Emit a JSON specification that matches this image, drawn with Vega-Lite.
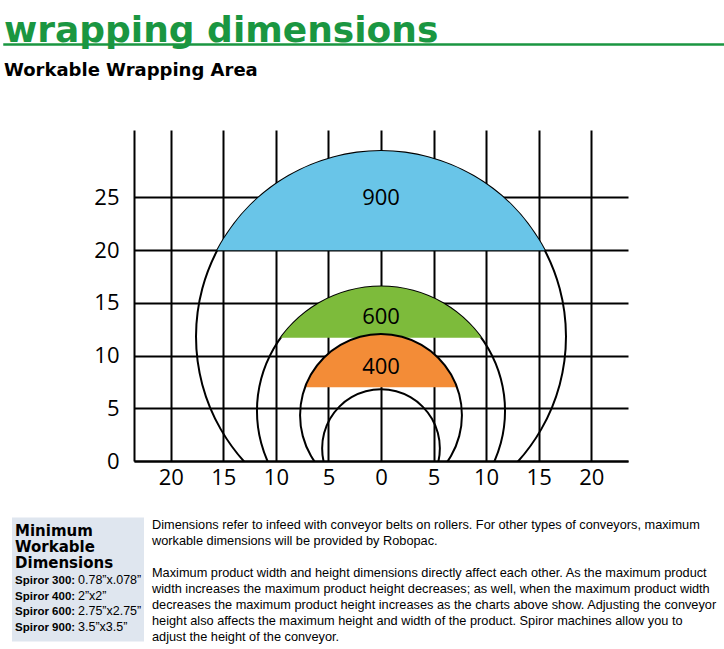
{
  "$schema": "https://vega.github.io/schema/vega-lite/v6.json",
  "background": "white",
  "padding": {"left": 3, "top": 12, "right": 0, "bottom": 0},
  "config": {"view": {"stroke": null}},
  "datasets": {
    "circles": [
      {"c":"900","i":0,"x":17.6,"y":11.8},{"c":"900","i":1,"x":17.0,"y":16.36},{"c":"900","i":2,"x":15.24,"y":20.6},{"c":"900","i":3,"x":12.45,"y":24.25},{"c":"900","i":4,"x":8.8,"y":27.04},{"c":"900","i":5,"x":4.56,"y":28.8},{"c":"900","i":6,"x":0,"y":29.4},{"c":"900","i":7,"x":-4.56,"y":28.8},{"c":"900","i":8,"x":-8.8,"y":27.04},{"c":"900","i":9,"x":-12.45,"y":24.25},{"c":"900","i":10,"x":-15.24,"y":20.6},{"c":"900","i":11,"x":-17.0,"y":16.36},{"c":"900","i":12,"x":-17.6,"y":11.8},{"c":"900","i":13,"x":-17.0,"y":7.24},{"c":"900","i":14,"x":-15.24,"y":3.0},{"c":"900","i":15,"x":-12.45,"y":-0.65},{"c":"900","i":16,"x":-8.8,"y":-3.44},{"c":"900","i":17,"x":-4.56,"y":-5.2},{"c":"900","i":18,"x":0,"y":-5.8},{"c":"900","i":19,"x":4.56,"y":-5.2},{"c":"900","i":20,"x":8.8,"y":-3.44},{"c":"900","i":21,"x":12.45,"y":-0.65},{"c":"900","i":22,"x":15.24,"y":3.0},{"c":"900","i":23,"x":17.0,"y":7.24},
      {"c":"600","i":0,"x":11.8,"y":4.75},{"c":"600","i":1,"x":11.4,"y":7.8},{"c":"600","i":2,"x":10.22,"y":10.65},{"c":"600","i":3,"x":8.34,"y":13.09},{"c":"600","i":4,"x":5.9,"y":14.97},{"c":"600","i":5,"x":3.05,"y":16.15},{"c":"600","i":6,"x":0,"y":16.55},{"c":"600","i":7,"x":-3.05,"y":16.15},{"c":"600","i":8,"x":-5.9,"y":14.97},{"c":"600","i":9,"x":-8.34,"y":13.09},{"c":"600","i":10,"x":-10.22,"y":10.65},{"c":"600","i":11,"x":-11.4,"y":7.8},{"c":"600","i":12,"x":-11.8,"y":4.75},{"c":"600","i":13,"x":-11.4,"y":1.7},{"c":"600","i":14,"x":-10.22,"y":-1.15},{"c":"600","i":15,"x":-8.34,"y":-3.59},{"c":"600","i":16,"x":-5.9,"y":-5.47},{"c":"600","i":17,"x":-3.05,"y":-6.65},{"c":"600","i":18,"x":0,"y":-7.05},{"c":"600","i":19,"x":3.05,"y":-6.65},{"c":"600","i":20,"x":5.9,"y":-5.47},{"c":"600","i":21,"x":8.34,"y":-3.59},{"c":"600","i":22,"x":10.22,"y":-1.15},{"c":"600","i":23,"x":11.4,"y":1.7},
      {"c":"400","i":0,"x":7.7,"y":4.35},{"c":"400","i":1,"x":7.44,"y":6.34},{"c":"400","i":2,"x":6.67,"y":8.2},{"c":"400","i":3,"x":5.44,"y":9.8},{"c":"400","i":4,"x":3.85,"y":11.02},{"c":"400","i":5,"x":1.99,"y":11.79},{"c":"400","i":6,"x":0,"y":12.05},{"c":"400","i":7,"x":-1.99,"y":11.79},{"c":"400","i":8,"x":-3.85,"y":11.02},{"c":"400","i":9,"x":-5.44,"y":9.8},{"c":"400","i":10,"x":-6.67,"y":8.2},{"c":"400","i":11,"x":-7.44,"y":6.34},{"c":"400","i":12,"x":-7.7,"y":4.35},{"c":"400","i":13,"x":-7.44,"y":2.36},{"c":"400","i":14,"x":-6.67,"y":0.5},{"c":"400","i":15,"x":-5.44,"y":-1.1},{"c":"400","i":16,"x":-3.85,"y":-2.32},{"c":"400","i":17,"x":-1.99,"y":-3.09},{"c":"400","i":18,"x":0,"y":-3.35},{"c":"400","i":19,"x":1.99,"y":-3.09},{"c":"400","i":20,"x":3.85,"y":-2.32},{"c":"400","i":21,"x":5.44,"y":-1.1},{"c":"400","i":22,"x":6.67,"y":0.5},{"c":"400","i":23,"x":7.44,"y":2.36},
      {"c":"300","i":0,"x":5.6,"y":1.2},{"c":"300","i":1,"x":5.41,"y":2.65},{"c":"300","i":2,"x":4.85,"y":4.0},{"c":"300","i":3,"x":3.96,"y":5.16},{"c":"300","i":4,"x":2.8,"y":6.05},{"c":"300","i":5,"x":1.45,"y":6.61},{"c":"300","i":6,"x":0,"y":6.8},{"c":"300","i":7,"x":-1.45,"y":6.61},{"c":"300","i":8,"x":-2.8,"y":6.05},{"c":"300","i":9,"x":-3.96,"y":5.16},{"c":"300","i":10,"x":-4.85,"y":4.0},{"c":"300","i":11,"x":-5.41,"y":2.65},{"c":"300","i":12,"x":-5.6,"y":1.2},{"c":"300","i":13,"x":-5.41,"y":-0.25},{"c":"300","i":14,"x":-4.85,"y":-1.6},{"c":"300","i":15,"x":-3.96,"y":-2.76},{"c":"300","i":16,"x":-2.8,"y":-3.65},{"c":"300","i":17,"x":-1.45,"y":-4.21},{"c":"300","i":18,"x":0,"y":-4.4},{"c":"300","i":19,"x":1.45,"y":-4.21},{"c":"300","i":20,"x":2.8,"y":-3.65},{"c":"300","i":21,"x":3.96,"y":-2.76},{"c":"300","i":22,"x":4.85,"y":-1.6},{"c":"300","i":23,"x":5.41,"y":-0.25}
    ],
    "segs": [
      {"s":"900","x":-15.58,"y":20,"y2":20},{"s":"900","x":-15.24,"y":20.6,"y2":20},{"s":"900","x":-13.96,"y":22.51,"y2":20},{"s":"900","x":-12.45,"y":24.25,"y2":20},{"s":"900","x":-10.71,"y":25.76,"y2":20},{"s":"900","x":-8.8,"y":27.04,"y2":20},{"s":"900","x":-6.74,"y":28.06,"y2":20},{"s":"900","x":-4.56,"y":28.8,"y2":20},{"s":"900","x":-2.3,"y":29.25,"y2":20},{"s":"900","x":0,"y":29.4,"y2":20},{"s":"900","x":2.3,"y":29.25,"y2":20},{"s":"900","x":4.56,"y":28.8,"y2":20},{"s":"900","x":6.74,"y":28.06,"y2":20},{"s":"900","x":8.8,"y":27.04,"y2":20},{"s":"900","x":10.71,"y":25.76,"y2":20},{"s":"900","x":12.45,"y":24.25,"y2":20},{"s":"900","x":13.96,"y":22.51,"y2":20},{"s":"900","x":15.24,"y":20.6,"y2":20},{"s":"900","x":15.58,"y":20,"y2":20},
      {"s":"600","x":-9.54,"y":11.7,"y2":11.7},{"s":"600","x":-9.04,"y":12.34,"y2":11.7},{"s":"600","x":-8.34,"y":13.09,"y2":11.7},{"s":"600","x":-7.18,"y":14.11,"y2":11.7},{"s":"600","x":-5.9,"y":14.97,"y2":11.7},{"s":"600","x":-4.52,"y":15.65,"y2":11.7},{"s":"600","x":-3.05,"y":16.15,"y2":11.7},{"s":"600","x":-1.54,"y":16.45,"y2":11.7},{"s":"600","x":0,"y":16.55,"y2":11.7},{"s":"600","x":1.54,"y":16.45,"y2":11.7},{"s":"600","x":3.05,"y":16.15,"y2":11.7},{"s":"600","x":4.52,"y":15.65,"y2":11.7},{"s":"600","x":5.9,"y":14.97,"y2":11.7},{"s":"600","x":7.18,"y":14.11,"y2":11.7},{"s":"600","x":8.34,"y":13.09,"y2":11.7},{"s":"600","x":9.04,"y":12.34,"y2":11.7},{"s":"600","x":9.54,"y":11.7,"y2":11.7},
      {"s":"400","x":-7.23,"y":7,"y2":7},{"s":"400","x":-7.11,"y":7.3,"y2":7},{"s":"400","x":-6.67,"y":8.2,"y2":7},{"s":"400","x":-6.11,"y":9.04,"y2":7},{"s":"400","x":-5.44,"y":9.8,"y2":7},{"s":"400","x":-4.69,"y":10.46,"y2":7},{"s":"400","x":-3.85,"y":11.02,"y2":7},{"s":"400","x":-2.95,"y":11.46,"y2":7},{"s":"400","x":-1.99,"y":11.79,"y2":7},{"s":"400","x":-1,"y":11.98,"y2":7},{"s":"400","x":0,"y":12.05,"y2":7},{"s":"400","x":1,"y":11.98,"y2":7},{"s":"400","x":1.99,"y":11.79,"y2":7},{"s":"400","x":2.95,"y":11.46,"y2":7},{"s":"400","x":3.85,"y":11.02,"y2":7},{"s":"400","x":4.69,"y":10.46,"y2":7},{"s":"400","x":5.44,"y":9.8,"y2":7},{"s":"400","x":6.11,"y":9.04,"y2":7},{"s":"400","x":6.67,"y":8.2,"y2":7},{"s":"400","x":7.11,"y":7.3,"y2":7},{"s":"400","x":7.23,"y":7,"y2":7}
    ],
    "labels": [
      {"t":"900","x":0,"y":25},{"t":"600","x":0,"y":13.8},{"t":"400","x":0,"y":9.0}
    ],
    "box": [
      {"k":"h","n":1,"a":"Minimum","b":""},
      {"k":"h","n":2,"a":"Workable","b":""},
      {"k":"h","n":3,"a":"Dimensions","b":""},
      {"k":"s","n":4,"a":"Spiror 300:","b":"0.78”x.078”"},
      {"k":"s","n":5,"a":"Spiror 400:","b":"2”x2”"},
      {"k":"s","n":6,"a":"Spiror 600:","b":"2.75”x2.75”"},
      {"k":"s","n":7,"a":"Spiror 900:","b":"3.5”x3.5”"}
    ],
    "para": [
      {"n":1,"t":"Dimensions refer to infeed with conveyor belts on rollers. For other types of conveyors, maximum"},
      {"n":2,"t":"workable dimensions will be provided by Robopac."},
      {"n":4,"t":"Maximum product width and height dimensions directly affect each other. As the maximum product"},
      {"n":5,"t":"width increases the maximum product height decreases; as well, when the maximum product width"},
      {"n":6,"t":"decreases the maximum product height increases as the charts above show. Adjusting the conveyor"},
      {"n":7,"t":"height also affects the maximum height and width of the product. Spiror machines allow you to"},
      {"n":8,"t":"adjust the height of the conveyor."}
    ]
  },
  "spacing": 11,
  "vconcat": [
    {
      "width": 720,
      "height": 1,
      "data": {"values": []},
      "mark": "point",
      "view": {"stroke": "#1a9641", "strokeWidth": 1.5},
      "title": {
        "text": "wrapping dimensions",
        "anchor": "start",
        "frame": "group",
        "baseline": "alphabetic",
        "offset": -34,
        "font": "DejaVu Sans",
        "fontSize": 36,
        "fontWeight": "bold",
        "color": "#1a9641"
      }
    },
    {
      "spacing": 29.6,
      "vconcat": [
        {
          "spacing": 0,
          "title": {
            "text": "Workable Wrapping Area",
            "anchor": "start",
            "frame": "group",
            "offset": 36.3,
            "baseline": "alphabetic",
            "font": "DejaVu Sans",
            "fontSize": 18,
            "fontWeight": "bold",
            "color": "black"
          },
          "hconcat": [
            {
              "width": 88.2,
              "height": 1,
              "data": {"values": []},
              "mark": "point"
            },
            {
              "width": 494,
              "height": 331,
              "layer": [
                {
                  "data": {"name": "circles"},
                  "transform": [{"filter": {"field": "c", "oneOf": ["900", "600"]}}],
                  "mark": {"type": "line", "interpolate": "cardinal-closed", "clip": true, "color": "black", "strokeWidth": 2},
                  "encoding": {
                    "x": {
                      "field": "x", "type": "quantitative",
                      "scale": {"domain": [-23.5, 23.5], "nice": false, "zero": false},
                      "axis": {
                        "values": [-20, -15, -10, -5, 0, 5, 10, 15, 20],
                        "labelExpr": "abs(datum.value)",
                        "grid": true, "gridColor": "black", "gridWidth": 2, "gridOpacity": 1,
                        "ticks": false, "domain": true, "domainColor": "black", "domainWidth": 2,
                        "labelFont": "Open Sans", "labelFontSize": 22, "labelColor": "black",
                        "labelPadding": 6, "labelFlush": false, "labelOverlap": false, "title": null
                      }
                    },
                    "y": {
                      "field": "y", "type": "quantitative",
                      "scale": {"domain": [0, 31.4], "nice": false, "zero": false},
                      "axis": {
                        "values": [0, 5, 10, 15, 20, 25],
                        "grid": true, "gridColor": "black", "gridWidth": 2, "gridOpacity": 1,
                        "ticks": false, "domain": true, "domainColor": "black", "domainWidth": 2,
                        "labelFont": "Open Sans", "labelFontSize": 22, "labelColor": "black",
                        "labelPadding": 15, "labelFlush": false, "labelOverlap": false, "title": null
                      }
                    },
                    "detail": {"field": "c"},
                    "order": {"field": "i", "type": "quantitative"}
                  }
                },
                {
                  "data": {"name": "segs"},
                  "mark": {"type": "area", "interpolate": "monotone"},
                  "encoding": {
                    "x": {"field": "x", "type": "quantitative"},
                    "y": {"field": "y", "type": "quantitative", "stack": null},
                    "y2": {"field": "y2"},
                    "color": {
                      "field": "s", "type": "nominal",
                      "scale": {"domain": ["900", "600", "400"], "range": ["#69c5e8", "#7dbb3b", "#f38c37"]},
                      "legend": null
                    }
                  }
                },
                {
                  "data": {"name": "circles"},
                  "transform": [{"filter": {"field": "c", "oneOf": ["400", "300"]}}],
                  "mark": {"type": "line", "interpolate": "cardinal-closed", "clip": true, "color": "black", "strokeWidth": 2},
                  "encoding": {
                    "x": {"field": "x", "type": "quantitative"},
                    "y": {"field": "y", "type": "quantitative"},
                    "detail": {"field": "c"},
                    "order": {"field": "i", "type": "quantitative"}
                  }
                },
                {
                  "data": {"name": "labels"},
                  "mark": {"type": "text", "font": "Open Sans", "fontSize": 22, "color": "black", "baseline": "middle", "align": "center", "dy": 1},
                  "encoding": {
                    "x": {"field": "x", "type": "quantitative"},
                    "y": {"field": "y", "type": "quantitative"},
                    "text": {"field": "t"}
                  }
                }
              ]
            }
          ]
        },
        {
          "spacing": 0,
          "hconcat": [
            {
              "width": 8,
              "height": 1,
              "data": {"values": []},
              "mark": "point"
            },
            {
              "width": 132,
              "height": 124,
              "view": {"fill": "#dfe6ef"},
              "data": {"name": "box"},
              "encoding": {
                "y": {
                  "field": "n", "type": "ordinal",
                  "scale": {"type": "point", "padding": 0.917, "align": 0.645},
                  "axis": null
                }
              },
              "layer": [
                {
                  "transform": [{"filter": "datum.k == 'h'"}],
                  "mark": {"type": "text", "align": "left", "baseline": "alphabetic", "font": "DejaVu Sans", "fontSize": 15, "fontWeight": "bold", "color": "black"},
                  "encoding": {
                    "x": {"datum": 0.023, "type": "quantitative", "scale": {"domain": [0, 1]}, "axis": null},
                    "text": {"field": "a"}
                  }
                },
                {
                  "transform": [{"filter": "datum.k == 's'"}],
                  "mark": {"type": "text", "align": "left", "baseline": "alphabetic", "font": "Liberation Sans", "fontSize": 11.5, "fontWeight": "bold", "color": "black"},
                  "encoding": {
                    "x": {"datum": 0.023, "type": "quantitative", "scale": {"domain": [0, 1]}, "axis": null},
                    "text": {"field": "a"}
                  }
                },
                {
                  "transform": [{"filter": "datum.k == 's'"}],
                  "mark": {"type": "text", "align": "left", "baseline": "alphabetic", "font": "Liberation Sans", "fontSize": 12.5, "fontWeight": "normal", "color": "black"},
                  "encoding": {
                    "x": {"datum": 0.5, "type": "quantitative", "scale": {"domain": [0, 1]}, "axis": null},
                    "text": {"field": "b"}
                  }
                }
              ]
            },
            {
              "width": 7.5,
              "height": 1,
              "data": {"values": []},
              "mark": "point"
            },
            {
              "width": 566,
              "height": 124,
              "data": {"name": "para"},
              "mark": {"type": "text", "align": "left", "baseline": "alphabetic", "font": "Liberation Sans", "fontSize": 12.75, "color": "black"},
              "encoding": {
                "y": {
                  "field": "n", "type": "ordinal",
                  "scale": {"type": "point", "domain": [1, 2, 3, 4, 5, 6, 7, 8], "padding": 0.375, "align": 0.975},
                  "axis": null
                },
                "x": {"datum": 0, "type": "quantitative", "scale": {"domain": [0, 1]}, "axis": null},
                "text": {"field": "t"}
              }
            }
          ]
        }
      ]
    }
  ]
}
